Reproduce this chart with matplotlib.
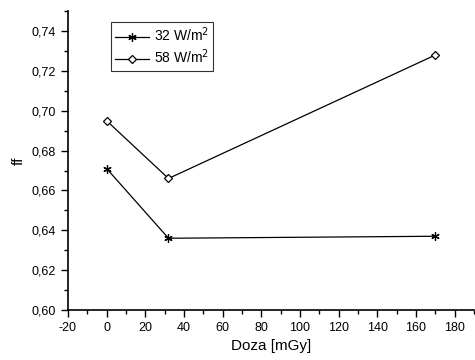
import matplotlib
matplotlib.use("Agg")
import matplotlib.pyplot as plt
from matplotlib.ticker import MultipleLocator, FuncFormatter

plt.rcParams["font.family"] = ["Liberation Sans", "DejaVu Sans"]
plt.rcParams["axes.unicode_minus"] = False

# data
dose = [0, 32, 170]
ff_32 = [0.671, 0.636, 0.637]
ff_58 = [0.695, 0.666, 0.728]

fig = plt.figure(figsize=(4.75, 3.6), dpi=100)
ax = fig.add_axes([0.143, 0.139, 0.855, 0.830])

ax.plot(dose, ff_32, color="black", lw=0.9, marker=(6, 2, 0), ms=6,
        mew=0.9, label="32 W/m$^2$")
ax.plot(dose, ff_58, color="black", lw=0.9, marker="D", ms=4.5, mfc="white",
        mew=0.9, label="58 W/m$^2$")

ax.set_xlim(-20, 190)
ax.set_ylim(0.60, 0.75)
ax.xaxis.set_major_locator(MultipleLocator(20))
ax.xaxis.set_minor_locator(MultipleLocator(10))
ax.yaxis.set_major_locator(MultipleLocator(0.02))
ax.yaxis.set_minor_locator(MultipleLocator(0.01))
ax.yaxis.set_major_formatter(FuncFormatter(lambda v, p: f"{v:.2f}".replace(".", ",")))

for s in ["top", "right"]:
    ax.spines[s].set_visible(False)
for s in ["left", "bottom"]:
    ax.spines[s].set_linewidth(1.2)
ax.tick_params(which="major", direction="out", length=5, width=1.0, labelsize=9)
ax.tick_params(which="minor", direction="out", length=3, width=1.0)

ax.set_xlabel("Doza [mGy]", fontsize=11)
ax.set_ylabel("ff", fontsize=11)

leg = ax.legend(loc="upper left", bbox_to_anchor=(0.105, 0.965), fontsize=10,
                frameon=True, fancybox=False, edgecolor="black",
                handlelength=2.5, borderpad=0.3, labelspacing=0.25,
                handletextpad=0.3, borderaxespad=0)
leg.get_frame().set_linewidth(0.8)

plt.savefig("out.png", dpi=100)
